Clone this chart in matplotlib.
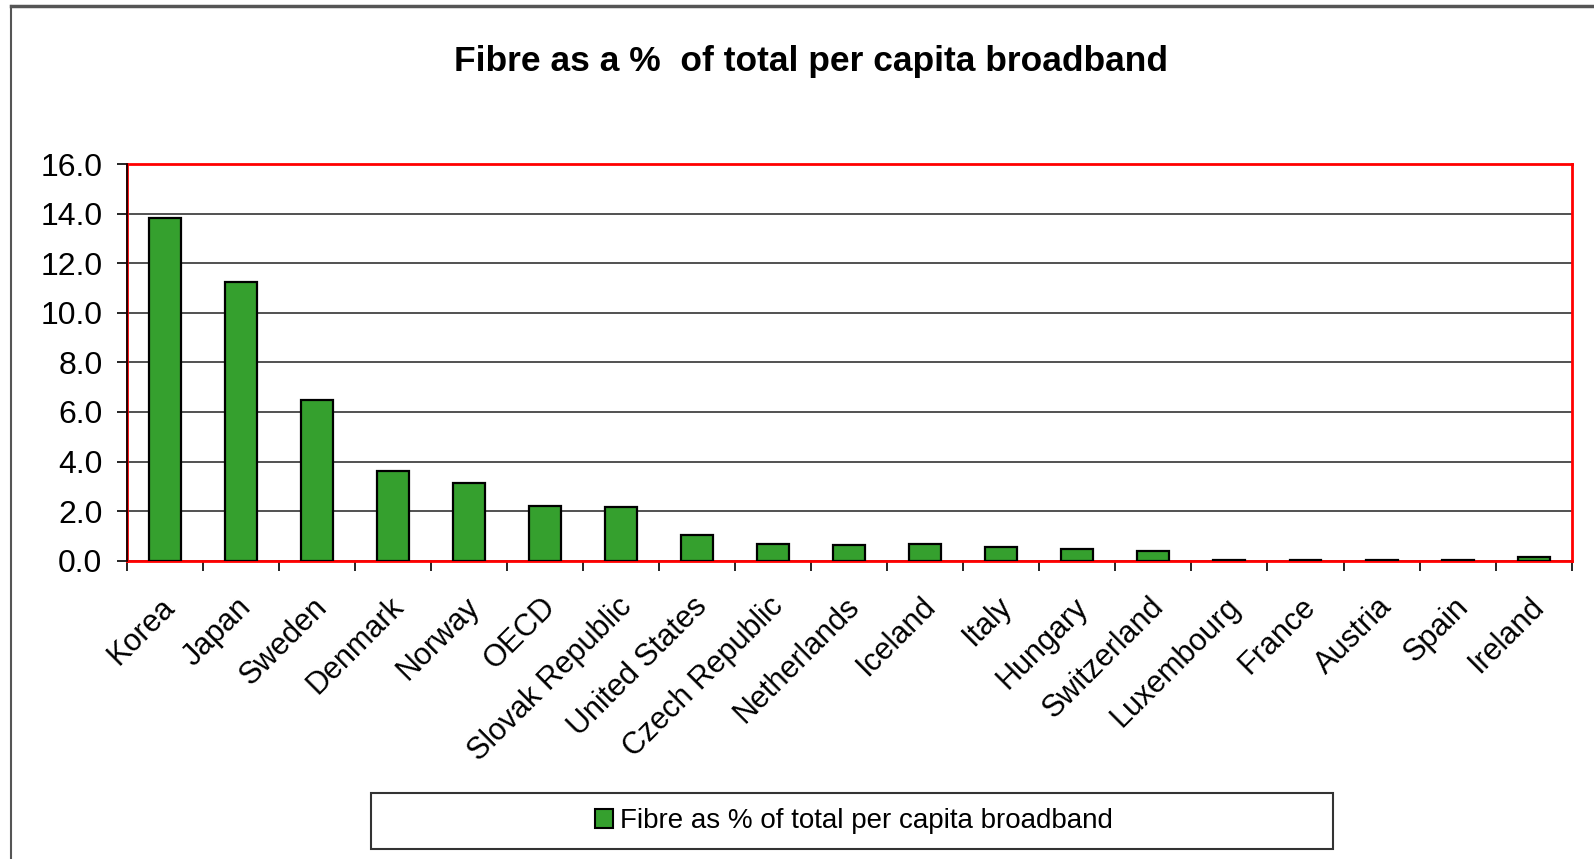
import matplotlib
matplotlib.use("Agg")
import matplotlib.pyplot as plt
import matplotlib.transforms as mtransforms
import numpy as np
from matplotlib.lines import Line2D
from matplotlib.patches import Rectangle, Patch

plt.rcParams['font.family'] = ['Liberation Sans', 'DejaVu Sans']

countries = ["Korea", "Japan", "Sweden", "Denmark", "Norway", "OECD",
             "Slovak Republic", "United States", "Czech Republic", "Netherlands",
             "Iceland", "Italy", "Hungary", "Switzerland", "Luxembourg",
             "France", "Austria", "Spain", "Ireland"]
fibre_pct = [13.83, 11.25, 6.5, 3.6, 3.15, 2.2, 2.15, 1.04, 0.67, 0.62,
             0.67, 0.56, 0.48, 0.40, 0.02, 0.02, 0.02, 0.02, 0.16]
yticks = [0, 2, 4, 6, 8, 10, 12, 14, 16]
title = "Fibre as a %  of total per capita broadband"
series_name = "Fibre as % of total per capita broadband"

W, H = 1594, 859
fig = plt.figure(figsize=(W / 100, H / 100), dpi=100)
ax = fig.add_axes([126.7 / W, 1 - 560.7 / H, (1571.7 - 126.7) / W, (560.7 - 164) / H])

x = np.arange(len(countries))
ax.bar(x, fibre_pct, width=0.42, color="#35a02e", edgecolor="black", linewidth=1.6, zorder=3)

ax.set_xlim(-0.5, len(countries) - 0.5)
ax.set_ylim(0, 16)
ax.set_yticks(yticks)
ax.set_yticklabels(["%.1f" % v for v in yticks], fontsize=23)
ax.yaxis.grid(True, color="#222222", linewidth=1.1, zorder=1)
ax.tick_params(axis="y", length=7, width=1.2, pad=10.5, direction="out")

ax.set_xticks(np.arange(len(countries) + 1) - 0.5)
ax.set_xticklabels([])
ax.tick_params(axis="x", which="major", length=7, width=1.2)
ax.set_xticks(x, minor=True)
ax.set_xticklabels(countries, minor=True, rotation=45, ha="right",
                   rotation_mode="anchor", fontsize=22)
ax.tick_params(axis="x", which="minor", length=0, pad=30)
shift = mtransforms.ScaledTranslation(6 / 100, 0, fig.dpi_scale_trans)
for lbl in ax.get_xticklabels(minor=True):
    lbl.set_va("center")
    lbl.set_transform(lbl.get_transform() + shift)

for s in ax.spines.values():
    s.set_color("red")
    s.set_linewidth(2)
ax.axvline(-0.5, color="black", linewidth=1.2, zorder=4, clip_on=False)

fig.text(811 / W, 1 - 61 / H, title, ha="center", va="center",
         fontsize=25.5, fontweight="bold")

# outer chart frame (left and top edges only visible)
fig.add_artist(Line2D([10.5 / W, 10.5 / W], [0, 1 - 5.5 / H], color="#555555", lw=1.5))
fig.add_artist(Line2D([10.5 / W, 1], [1 - 5.5 / H, 1 - 5.5 / H], color="#555555", lw=2.5))

# legend box
fig.add_artist(Rectangle((371 / W, 1 - 849 / H), (1333 - 371) / W, (849 - 793) / H,
                         transform=fig.transFigure, facecolor="white",
                         edgecolor="#333333", lw=1.5))
fig.legend(handles=[Patch(facecolor="#35a02e", edgecolor="black", lw=1.5, label=series_name)],
           loc="center", bbox_to_anchor=(854 / W, 1 - 821 / H), frameon=False,
           fontsize=20, handlelength=0.65, handleheight=0.65, handletextpad=0.25)

fig.savefig("out.png", dpi=100, facecolor="white")
